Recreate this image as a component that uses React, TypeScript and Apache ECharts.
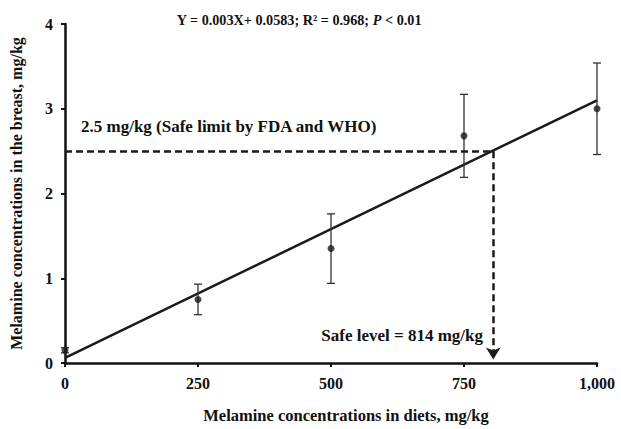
import React, { useEffect, useRef } from "react";
import * as echarts from "echarts";

const dietLevels = [0, 250, 500, 750, 1000];
const breastMeans = [0.15, 0.75, 1.35, 2.68, 3.0];
const breastSD = [0.03, 0.18, 0.41, 0.49, 0.54];
const fitLine = [
  [0, 0.06],
  [1000, 3.1],
];
const safeLimit = 2.5;
const safeLevelX = 805;
const xTicks = [0, 250, 500, 750, 1000];

const FONT = "'Liberation Serif', 'Times New Roman', serif";

export default function App() {
  const ref = useRef<HTMLDivElement>(null);
  useEffect(() => {
    if (!ref.current) return;
    const chart = echarts.init(ref.current, undefined, { renderer: "svg" });
    const errData = dietLevels.map((x, i) => [x, breastMeans[i] - breastSD[i], breastMeans[i] + breastSD[i]]);
    chart.setOption({
      animation: false,
      textStyle: { fontFamily: FONT },
      title: {
        text: "{n|Y = 0.003X+ 0.0583; R² = 0.968; }{i|P}{n| < 0.01}",
        left: 294,
        top: 8,
        textAlign: "center",
        textStyle: {
          rich: {
            n: { fontFamily: FONT, fontWeight: "bold", fontSize: 14.2, color: "#111" },
            i: { fontFamily: FONT, fontWeight: "bold", fontStyle: "italic", fontSize: 14.2, color: "#111" },
          },
        },
      },
      grid: { left: 65, right: 24, top: 24, bottom: 66, outerBoundsMode: "none" },
      xAxis: {
        type: "value",
        min: 0,
        max: 1000,
        interval: 250,
        name: "Melamine concentrations in diets, mg/kg",
        nameLocation: "middle",
        nameGap: 44,
        nameTextStyle: {
          fontFamily: FONT,
          fontWeight: "bold",
          fontSize: 16.5,
          color: "#111",
          padding: [0, 0, 0, 30],
        },
        axisLine: { lineStyle: { color: "#111", width: 2.5 } },
        axisTick: { length: 4, lineStyle: { color: "#111", width: 2 } },
        axisLabel: {
          fontFamily: FONT,
          fontWeight: "bold",
          fontSize: 16,
          color: "#111",
          margin: 12,
          formatter: (v: number) => (xTicks.includes(v) ? v.toLocaleString("en-US") : ""),
        },
        splitLine: { show: false },
      },
      yAxis: {
        type: "value",
        min: 0,
        max: 4,
        interval: 1,
        name: "Melamine concentrations in the breast, mg/kg",
        nameLocation: "middle",
        nameGap: 41,
        nameTextStyle: { fontFamily: FONT, fontWeight: "bold", fontSize: 16, color: "#111" },
        axisLine: { lineStyle: { color: "#111", width: 2.5 } },
        axisTick: { length: 4, lineStyle: { color: "#111", width: 2 } },
        axisLabel: { fontFamily: FONT, fontWeight: "bold", fontSize: 16, color: "#111", margin: 12 },
        splitLine: { show: false },
      },
      graphic: [
        {
          type: "text",
          left: 81,
          top: 118,
          style: {
            text: "2.5 mg/kg (Safe limit by FDA and WHO)",
            font: `bold 17px ${FONT}`,
            fill: "#111",
          },
        },
        {
          type: "text",
          right: 138,
          top: 327,
          style: {
            text: "Safe level = 814 mg/kg",
            font: `bold 17px ${FONT}`,
            fill: "#111",
          },
        },
      ],
      series: [
        {
          type: "line",
          data: fitLine,
          symbol: "none",
          lineStyle: { color: "#1a1a1a", width: 2.5 },
          z: 3,
          markLine: {
            silent: true,
            symbol: ["none", "none"],
            lineStyle: { color: "#1a1a1a", width: 2.5, type: [7, 4] },
            label: { show: false },
            data: [
              [
                { coord: [0, safeLimit], symbol: "none" },
                { coord: [safeLevelX, safeLimit], symbol: "none" },
              ],
              [
                { coord: [safeLevelX, safeLimit], symbol: "none" },
                { coord: [safeLevelX, 0.04], symbol: "arrow", symbolSize: [11, 12] },
              ],
            ],
          },
        },
        {
          type: "custom",
          data: errData,
          z: 4,
          renderItem: (params: any, api: any) => {
            const x = api.value(0);
            const lo = api.coord([x, api.value(1)]);
            const hi = api.coord([x, api.value(2)]);
            const cap = 4;
            const style = { stroke: "#333", lineWidth: 1.3 };
            return {
              type: "group",
              children: [
                { type: "line", shape: { x1: lo[0], y1: lo[1], x2: hi[0], y2: hi[1] }, style },
                { type: "line", shape: { x1: hi[0] - cap, y1: hi[1], x2: hi[0] + cap, y2: hi[1] }, style },
                { type: "line", shape: { x1: lo[0] - cap, y1: lo[1], x2: lo[0] + cap, y2: lo[1] }, style },
              ],
            };
          },
        },
        {
          type: "scatter",
          data: dietLevels.map((x, i) => [x, breastMeans[i]]),
          symbol: "circle",
          symbolSize: 7,
          itemStyle: { color: "#1a1a1a" },
          z: 5,
        },
      ],
    });
    return () => chart.dispose();
  }, []);
  return <div ref={ref} style={{ position: "absolute", left: 0, top: 0, width: 621, height: 429 }} />;
}
